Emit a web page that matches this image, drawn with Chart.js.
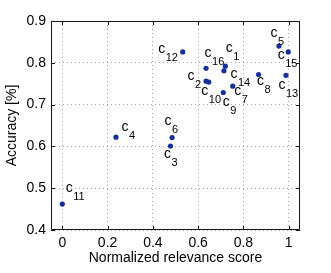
<!DOCTYPE html>
<html>
<head>
<meta charset="utf-8">
<script src="https://cdn.jsdelivr.net/npm/chart.js@4/dist/chart.umd.min.js"></script>
<style>
  body { margin: 0; background: #fff; }
  #wrap { width: 331px; height: 273px; }
</style>
</head>
<body>
<div id="wrap"><canvas id="scatter" width="331" height="273"></canvas></div>
<script>
// classifier ids (subscripts of the c labels)
const ids = ['1', '2', '3', '4', '5', '6', '7', '8', '9', '10', '11', '12', '13', '14', '15', '16'];
// normalized relevance score (x)
const relevance = [0.720, 0.635, 0.478, 0.237, 0.957, 0.485, 0.753, 0.867, 0.711, 0.647, 0.000, 0.532, 0.988, 0.714, 0.998, 0.635];
// accuracy (y)
const accuracy = [0.792, 0.756, 0.601, 0.622, 0.840, 0.621, 0.744, 0.772, 0.729, 0.754, 0.462, 0.826, 0.770, 0.781, 0.826, 0.787];

const xTicks = [0, 0.2, 0.4, 0.6, 0.8, 1];
const yTicks = [0.4, 0.5, 0.6, 0.7, 0.8, 0.9];

const FONT = 'Liberation Sans, Arial, Helvetica, sans-serif';

// where each "c" sits relative to its dot (px), like manual text() placement
const labelOffsets = [
  [4, -18], [-15, -5], [-3, 8], [9, -10], [-5, -13], [-4, -16], [5, 5], [2, 7],
  [3, 10], [-4, 9], [7, -16], [-21, -3], [-4, 10], [10, 3], [-7, 3], [2, -15]
];

// box around the axes + inward ticks on all four sides
const boxPlugin = {
  id: 'box',
  afterDraw(chart) {
    const { ctx, chartArea: a, scales } = chart;
    ctx.save();
    ctx.strokeStyle = '#1a1a1a';
    ctx.lineWidth = 1;
    ctx.beginPath();
    ctx.rect(a.left + 0.5, a.top + 0.5, a.right - a.left - 1, a.bottom - a.top - 1);
    const len = 4;
    xTicks.forEach(v => {
      const x = Math.round(scales.x.getPixelForValue(v)) + 0.5;
      ctx.moveTo(x, a.bottom); ctx.lineTo(x, a.bottom - len);
      ctx.moveTo(x, a.top); ctx.lineTo(x, a.top + len);
    });
    yTicks.forEach(v => {
      const y = Math.round(scales.y.getPixelForValue(v)) + 0.5;
      ctx.moveTo(a.left, y); ctx.lineTo(a.left + len, y);
      ctx.moveTo(a.right, y); ctx.lineTo(a.right - len, y);
    });
    ctx.stroke();
    ctx.restore();
  }
};

// "c" with subscript number next to each dot
const labelPlugin = {
  id: 'cLabels',
  afterDatasetsDraw(chart) {
    const { ctx } = chart;
    const pts = chart.getDatasetMeta(0).data;
    ctx.save();
    ctx.fillStyle = '#000';
    ctx.textAlign = 'left';
    ctx.textBaseline = 'alphabetic';
    pts.forEach((p, i) => {
      const [dx, dy] = labelOffsets[i];
      const x = p.x + dx - 3.5;
      const y = p.y + dy + 3.8;
      ctx.font = '14px ' + FONT;
      ctx.fillText('c', x, y);
      const w = ctx.measureText('c').width;
      ctx.font = '11px ' + FONT;
      ctx.fillText(ids[i], x + w + 0.5, y + 8);
    });
    ctx.restore();
  }
};

new Chart(document.getElementById('scatter').getContext('2d'), {
  type: 'scatter',
  data: {
    datasets: [{
      label: 'classifiers',
      data: relevance.map((r, i) => ({ x: r, y: accuracy[i] })),
      backgroundColor: '#16309a',
      borderColor: '#16309a',
      pointRadius: 2.6,
      borderWidth: 0
    }]
  },
  options: {
    responsive: false,
    animation: false,
    layout: { padding: { top: 21, right: 31, left: 0, bottom: 0 } },
    plugins: {
      legend: { display: false },
      tooltip: { enabled: false }
    },
    scales: {
      x: {
        type: 'linear',
        min: -0.05,
        max: 1.05,
        afterBuildTicks: s => { s.ticks = xTicks.map(v => ({ value: v })); },
        afterFit: s => { s.height = 43; },
        ticks: {
          color: '#000',
          font: { family: FONT, size: 14 },
          padding: 5,
          maxRotation: 0,
          callback: v => String(v)
        },
        grid: { color: '#a8a8a8', drawTicks: false },
        border: { display: false, dash: [1, 3] },
        title: {
          display: true,
          text: 'Normalized relevance score',
          color: '#000',
          font: { family: FONT, size: 14 },
          padding: { top: 0, bottom: 6 }
        }
      },
      y: {
        type: 'linear',
        min: 0.4,
        max: 0.9,
        afterBuildTicks: s => { s.ticks = yTicks.map(v => ({ value: v })); },
        afterFit: s => { s.width = 51; },
        ticks: {
          color: '#000',
          font: { family: FONT, size: 14 },
          padding: 5,
          callback: v => v.toFixed(1)
        },
        grid: { color: '#a8a8a8', drawTicks: false },
        border: { display: false, dash: [1, 3] },
        title: {
          display: true,
          text: 'Accuracy [%]',
          color: '#000',
          font: { family: FONT, size: 14 },
          padding: { top: 4, bottom: 0 }
        }
      }
    }
  },
  plugins: [boxPlugin, labelPlugin]
});
</script>
</body>
</html>
